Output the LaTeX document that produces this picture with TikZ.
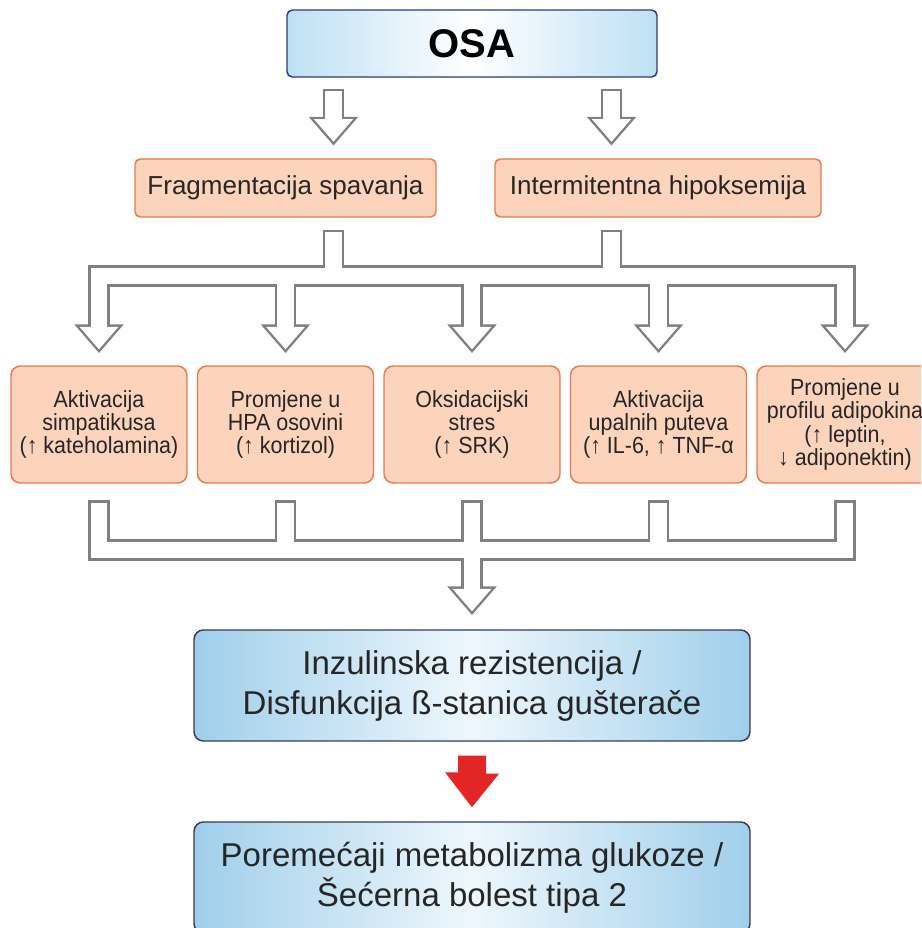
\documentclass[tikz,border=0pt]{standalone}
\usepackage{fontspec}
\setmainfont{Liberation Sans}
\newfontfamily\narrowsans[FakeStretch=0.92]{Liberation Sans}
\usetikzlibrary{calc}
\definecolor{osablue}{RGB}{190, 224, 244}
\definecolor{osaline}{RGB}{44, 58, 120}
\definecolor{boxblue}{RGB}{160, 207, 235}
\definecolor{boxmid}{RGB}{238, 247, 252}
\definecolor{boxline}{RGB}{52, 62, 92}
\definecolor{peach}{RGB}{252, 212, 188}
\definecolor{peachline}{RGB}{234, 120, 82}
\definecolor{arrowgray}{RGB}{128, 128, 128}
\definecolor{arrowred}{RGB}{226, 38, 38}
\pgfdeclarelayer{pipeback}
\pgfsetlayers{pipeback,main}

% hollow block arrows: grey outline behind, white core in front
\newcommand{\hpipe}[1]{%
  \begin{pgfonlayer}{pipeback}\draw[pipeout] #1;\end{pgfonlayer}%
  \draw[pipein] #1;}
\newcommand{\hhead}[1]{%
  \begin{pgfonlayer}{pipeback}\filldraw[headout] #1 -- ++(-19.5,22.5) -- ++(39,0) -- cycle;\end{pgfonlayer}%
  \fill[white] #1 -- ++(-19.5,22.5) -- ++(39,0) -- cycle;}

\tikzset{
  osabox/.style={draw=osaline, line width=1.1pt, rounded corners=4pt, left color=osablue, right color=osablue, middle color=white, minimum width=277.5pt, minimum height=50.25pt, inner sep=0pt, font=\fontsize{30}{36}\selectfont\bfseries},
  causebox/.style={draw=peachline, fill=peach, line width=1.1pt, rounded corners=4pt, minimum height=43.5pt, inner sep=0pt, text=black!85, font=\fontsize{19.5}{23}\selectfont},
  effectbox/.style={causebox, rounded corners=7pt, minimum width=132pt, minimum height=87.75pt, align=center, font=\narrowsans\fontsize{17.5}{17.5}\selectfont},
  resultbox/.style={draw=boxline, line width=1.1pt, rounded corners=7pt, left color=boxblue, right color=boxblue, middle color=boxmid, minimum width=417pt, minimum height=83.25pt, inner sep=0pt, align=center, text=black!85, font=\fontsize{24.75}{30}\selectfont},
  pipeout/.style={draw=arrowgray, line width=16.1pt, shorten <=-1.8pt, shorten >=-1.8pt},
  pipein/.style={draw=white, line width=12.5pt},
  headout/.style={fill=arrowgray, draw=arrowgray, line width=3.6pt, line join=miter}
}

\begin{document}
\begin{tikzpicture}[x=0.75pt, y=0.75pt]
  \useasboundingbox (0,0) rectangle (921,-928);
  \clip (0,0) rectangle (921,-928);

  % Top
  \node[osabox] (osa) at (472,-43.5) {OSA};
  \node[causebox, minimum width=225.75pt] (frag) at (285.5,-188) {Fragmentacija spavanja};
  \node[causebox, minimum width=244.5pt] (hipo) at (658,-188) {Intermitentna hipoksemija};

  % Mechanisms
  \node[effectbox] (simp) at (99,-424.5) {Aktivacija\\simpatikusa\\(↑ kateholamina)};
  \node[effectbox] (hpa) at (285.5,-424.5) {Promjene u\\HPA osovini\\(↑ kortizol)};
  \node[effectbox] (oks) at (472,-424.5) {Oksidacijski\\stres\\(↑ SRK)};
  \node[effectbox] (upal) at (658.5,-424.5) {Aktivacija\\upalnih puteva\\(↑ IL-6, ↑ TNF-α};
  \node[effectbox] (adipo) at (845,-424.5) {Promjene u\\profilu adipokina\\(↑ leptin,\\↓ adiponektin)};

  % Outcome
  \node[resultbox] (inzul) at (472,-685.5) {Inzulinska rezistencija /\\Disfunkcija ß-stanica gušterače};
  \node[resultbox] (metab) at (472,-877.5) {Poremećaji metabolizma glukoze /\\Šećerna bolest tipa 2};

  \coordinate (forkL) at (333.5,0);
  \coordinate (forkR) at (611.5,0);
  \coordinate (busT) at (472,-276);
  \coordinate (busB) at (472,-550);

  % OSA -> causes
  \hpipe{(osa.south -| forkL) ++(0,-13.4) -- ++(0,-29)}
  \hhead{(osa.south -| forkL) ++(0,-64)}
  \hpipe{(osa.south -| forkR) ++(0,-13.4) -- ++(0,-29)}
  \hhead{(osa.south -| forkR) ++(0,-64)}

  % causes -> mechanisms
  \hpipe{(frag.south -| forkL) ++(0,-14.4) -- (forkL |- busT)}
  \hpipe{(hipo.south -| forkR) ++(0,-14.4) -- (forkR |- busT)}
  \hpipe{($(simp.north)+(0,37)$) -- (simp.north |- busT) -- (adipo.north |- busT) -- ($(adipo.north)+(0,37)$)}
  \foreach \n in {hpa,oks,upal} {\hpipe{(\n.north |- busT) -- ++(0,-53)}}
  \foreach \n in {simp,hpa,oks,upal,adipo} {\hhead{($(\n.north)+(0,16)$)}}

  % mechanisms -> insulin resistance
  \hpipe{($(simp.south)+(0,-19)$) -- (simp.south |- busB) -- (adipo.south |- busB) -- ($(adipo.south)+(0,-19)$)}
  \foreach \n in {hpa,oks,upal} {\hpipe{($(\n.south)+(0,-19)$) -- (\n.south |- busB)}}
  \hpipe{(busB) -- ($(inzul.north)+(0,40)$)}
  \hhead{($(inzul.north)+(0,18)$)}

  % red arrow
  \fill[arrowred] ($(inzul.south)+(-14,-14)$) -- ++(28,0) -- ++(0,-18) -- ++(13,0)
    -- ($(metab.north)+(0,14)$) -- ++(-27,35) -- ++(13,0) -- cycle;
\end{tikzpicture}
\end{document}
